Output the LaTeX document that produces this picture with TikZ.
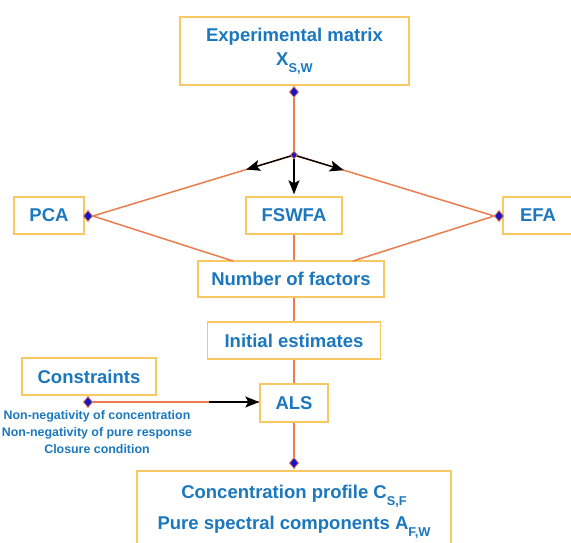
\documentclass[tikz,border=0pt]{standalone}
\usepackage{fontspec}
\setmainfont{Liberation Sans}
\usetikzlibrary{shapes.geometric,arrows.meta,calc}
\definecolor{txtc}{HTML}{1B78BE}
\definecolor{boxc}{HTML}{F8C862}
\definecolor{linec}{HTML}{EA7D4F}
\definecolor{dmdc}{HTML}{1414C8}
\newcommand\sbs[1]{\raisebox{-7pt}{\fontsize{12.8}{13}\selectfont #1}}
\tikzset{
  box/.style={draw=boxc, line width=1.4pt, fill=white, text=txtc, inner sep=0pt,
    font=\bfseries\fontsize{18.5}{24}\selectfont, align=center},
  dmd/.style={diamond, fill=dmdc, draw=linec, line width=0.7pt, inner sep=0pt,
    minimum width=9pt, minimum height=11pt},
  conn/.style={draw=linec, line width=1.5pt},
  blk/.style={draw=black, line width=1.4pt, -{Stealth[length=14pt,width=11pt,inset=3pt]}},
  note/.style={text=txtc, font=\bfseries\fontsize{12.4}{17}\selectfont, align=center, inner sep=0pt}
}
\begin{document}
\begin{tikzpicture}[x=1pt,y=-1pt]
\useasboundingbox (0,0) rectangle (571,542);
% boxes
\node[box, minimum width=229pt, minimum height=68pt] (top) at (294.5,51) {Experimental matrix\\X\sbs{S,W}};
\node[box, minimum width=70pt, minimum height=37pt] (pca) at (49,215.5) {PCA};
\node[box, minimum width=96pt, minimum height=37pt] (fswfa) at (294,215.5) {FSWFA};
\node[box, minimum width=70pt, minimum height=37pt] (efa) at (538,215.5) {EFA};
\node[box, minimum width=186pt, minimum height=36pt] (nof) at (291,279) {Number of factors};
\node[box, minimum width=173pt, minimum height=37pt] (ie) at (294,340.5) {Initial estimates};
\node[box, minimum width=134pt, minimum height=37pt] (cons) at (89,376.5) {Constraints};
\node[box, minimum width=68pt, minimum height=38pt] (als) at (294,403) {ALS};
\node[box, minimum width=314pt, minimum height=76pt, font=\bfseries\fontsize{18.5}{27}\selectfont] (bot) at (294,509)
  {\raisebox{6pt}{\begin{tabular}{@{}c@{}}Concentration profile C\sbs{S,F}\\[4pt]Pure spectral components A\sbs{F,W}\end{tabular}}};
\node[note] (notes) at (97,432) {Non-negativity of concentration\\Non-negativity of pure response\\Closure condition};
% diamonds
\node[dmd] (d1) at (294,92) {};
\node[dmd, minimum width=7pt, minimum height=8pt] (j) at (294,155) {};
\node[dmd] (dpca) at (88,216) {};
\node[dmd] (defa) at (499,216) {};
\node[dmd] (dcons) at (88,402) {};
\node[dmd] (dbot) at (294,463) {};
\coordinate (nl) at (233,261);
\coordinate (nr) at (353,261);
% orange connectors
\path[conn] (d1) -- (j);
\path[conn] (dpca.east) -- (j.center);
\path[conn] (defa.west) -- (j.center);
\path[conn] (dpca.east) -- (nl);
\path[conn] (defa.west) -- (nr);
\path[conn] (fswfa.south) -- (fswfa.south |- nof.north);
\path[conn] (nof.south -| ie.north) -- (ie.north);
\path[conn] (ie.south) -- (als.north);
\path[conn] (als.south) -- (dbot);
\path[conn] (dcons.east) -- (dcons -| als.west);
% black arrows
\draw[blk] (j.center) -- ($(j.center)!50pt!(dpca.east)$);
\draw[blk] (j.center) -- ($(j.center)!52pt!(defa.west)$);
\draw[blk, shorten >=2pt] (j.center) -- (fswfa.north);
\draw[blk] ($(dcons -| als.west)+(-50,0)$) -- (dcons -| als.west);
% redraw diamonds on top
\node[dmd] at (d1) {};
\node[dmd, minimum width=7pt, minimum height=8pt] at (j) {};
\node[dmd] at (dpca) {};
\node[dmd] at (defa) {};
\node[dmd] at (dcons) {};
\node[dmd] at (dbot) {};
\end{tikzpicture}
\end{document}
